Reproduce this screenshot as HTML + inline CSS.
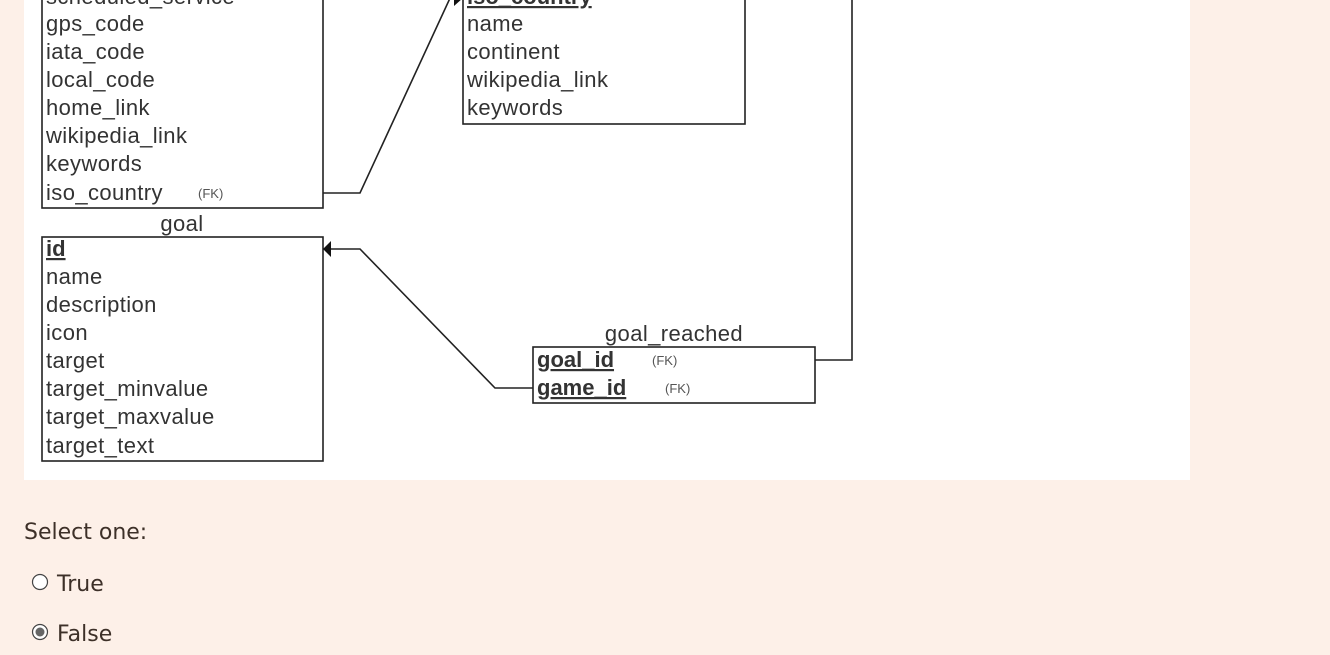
<!DOCTYPE html>
<html><head><meta charset="utf-8"><style>
html,body{margin:0;padding:0;width:1330px;height:655px;overflow:hidden;background:#fdf0e8;}
svg{position:absolute;left:0;top:0;}
.t{font-family:"Liberation Sans",sans-serif;font-size:22px;letter-spacing:0.4px;fill:#333;}
.b{font-weight:bold;letter-spacing:0;}
.fk{font-family:"Liberation Sans",sans-serif;font-size:13px;fill:#555;}
.q{font-family:"DejaVu Sans","Liberation Sans",sans-serif;font-size:22px;fill:#3d3028;}
</style></head><body>
<svg width="1330" height="655" viewBox="0 0 1330 655">
<rect x="24" y="0" width="1166" height="480" fill="#fff"/>
<g fill="none" stroke="#222" stroke-width="1.6">
<rect x="42" y="-40" width="281" height="248"/>
<rect x="463" y="-40" width="282" height="164"/>
<rect x="42" y="237" width="281" height="224"/>
<rect x="533" y="347" width="282" height="56"/>
<polyline points="323,193 360,193 451,-4"/>
<polyline points="533,388 495,388 360,249 323,249"/>
<polyline points="815,360 852,360 852,-5"/>
</g>
<polygon points="323,249 331,241 331,257" fill="#111"/>
<polygon points="463,-2 454,-8 454,6" fill="#111"/>
<g class="t">
<text x="46" y="4">scheduled_service</text>
<text x="46" y="31">gps_code</text>
<text x="46" y="59">iata_code</text>
<text x="46" y="87">local_code</text>
<text x="46" y="115">home_link</text>
<text x="46" y="143">wikipedia_link</text>
<text x="46" y="171">keywords</text>
<text x="46" y="200">iso_country</text>
<text x="467" y="4" class="b" text-decoration="underline">iso_country</text>
<text x="467" y="31">name</text>
<text x="467" y="59">continent</text>
<text x="467" y="87">wikipedia_link</text>
<text x="467" y="115">keywords</text>
<text x="182" y="231" text-anchor="middle">goal</text>
<text x="46" y="256" class="b" text-decoration="underline">id</text>
<text x="46" y="284">name</text>
<text x="46" y="312">description</text>
<text x="46" y="340">icon</text>
<text x="46" y="368">target</text>
<text x="46" y="396">target_minvalue</text>
<text x="46" y="424">target_maxvalue</text>
<text x="46" y="453">target_text</text>
<text x="674" y="341" text-anchor="middle">goal_reached</text>
<text x="537" y="367" class="b" text-decoration="underline">goal_id</text>
<text x="537" y="395" class="b" text-decoration="underline">game_id</text>
</g>
<text class="fk" x="198" y="198">(FK)</text>
<text class="fk" x="652" y="365">(FK)</text>
<text class="fk" x="665" y="393">(FK)</text>
<text class="q" x="24" y="539">Select one:</text>
<circle cx="40" cy="582" r="7.5" fill="#fff" stroke="#444" stroke-width="1.2"/>
<text class="q" x="57" y="591">True</text>
<circle cx="40" cy="632" r="7.5" fill="#fff" stroke="#444" stroke-width="1.2"/>
<circle cx="40" cy="632" r="4.5" fill="#666"/>
<text class="q" x="57" y="641">False</text>
</svg>
</body></html>
